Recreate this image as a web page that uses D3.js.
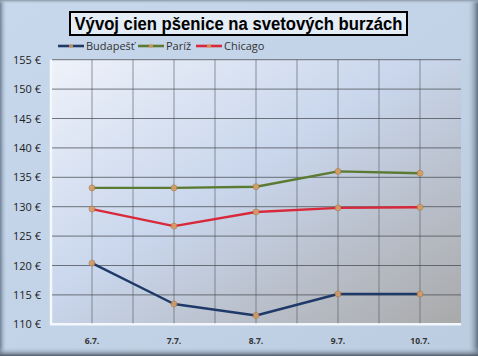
<!DOCTYPE html>
<html><head><meta charset="utf-8">
<script src="https://cdn.jsdelivr.net/npm/d3@7"></script>
<style>body{margin:0;padding:0;background:#fff}svg{display:block}</style>
</head><body>
<script>
const categories = ["6.7.","7.7.","8.7.","9.7.","10.7."];
const budapest = [120.4,113.45,111.5,115.15,115.15];
const pariz = [133.2,133.2,133.4,136.0,135.7];
const chicago = [129.6,126.7,129.1,129.8,129.9];
const yTicks = [110,115,120,125,130,135,140,145,150,155];
const seriesNames = ["Budapešť","Paríž","Chicago"];
const seriesColors = ["#1f3a68","#5b7a32","#d9283a"];
const series = [budapest,pariz,chicago].map((v,i)=>({name:seriesNames[i],color:seriesColors[i],values:v}));

const W=478,H=356;
const svg=d3.select("body").append("svg").attr("width",W).attr("height",H);
const defs=svg.append("defs");
const bg=defs.append("linearGradient").attr("id","bg").attr("x1","0").attr("y1","0").attr("x2","1").attr("y2","1");
bg.append("stop").attr("offset","0").attr("stop-color","#c8d8ec");
bg.append("stop").attr("offset","1").attr("stop-color","#bccde2");
const pg=defs.append("linearGradient").attr("id","pg").attr("x1","0").attr("y1","0").attr("x2","1").attr("y2","1");
pg.append("stop").attr("offset","0").attr("stop-color","#eef2fa");
pg.append("stop").attr("offset","0.45").attr("stop-color","#c9d6ec");
pg.append("stop").attr("offset","1").attr("stop-color","#a9a9a9");
const edgeL=defs.append("linearGradient").attr("id","edgeL").attr("x1","0").attr("x2","1");
edgeL.append("stop").attr("offset","0").attr("stop-color","#6d7f95");
edgeL.append("stop").attr("offset","1").attr("stop-color","#c3d3e6").attr("stop-opacity","0");
const edgeR=defs.append("linearGradient").attr("id","edgeR").attr("x1","1").attr("x2","0");
edgeR.append("stop").attr("offset","0").attr("stop-color","#5f6e80");
edgeR.append("stop").attr("offset","1").attr("stop-color","#c3d3e6").attr("stop-opacity","0");
const edgeB=defs.append("linearGradient").attr("id","edgeB").attr("x1","0").attr("y1","1").attr("x2","0").attr("y2","0");
edgeB.append("stop").attr("offset","0").attr("stop-color","#4e5a68");
edgeB.append("stop").attr("offset","1").attr("stop-color","#c3d3e6").attr("stop-opacity","0");
const edgeT=defs.append("linearGradient").attr("id","edgeT").attr("x1","0").attr("y1","0").attr("x2","0").attr("y2","1");
edgeT.append("stop").attr("offset","0").attr("stop-color","#8a98a8");
edgeT.append("stop").attr("offset","1").attr("stop-color","#c3d3e6").attr("stop-opacity","0");

svg.append("rect").attr("width",W).attr("height",H).attr("fill","url(#bg)");
svg.append("rect").attr("x",0).attr("y",0).attr("width",7).attr("height",H).attr("fill","url(#edgeL)");
svg.append("rect").attr("x",W-11).attr("y",0).attr("width",11).attr("height",H).attr("fill","url(#edgeR)");
svg.append("rect").attr("x",0).attr("y",H-9).attr("width",W).attr("height",9).attr("fill","url(#edgeB)");
svg.append("rect").attr("x",0).attr("y",0).attr("width",W).attr("height",4).attr("fill","url(#edgeT)");

const px0=51,px1=461,py0=59.7,py1=324.3;
const x=d3.scaleBand().domain(categories).range([px0,px1]);
const y=d3.scaleLinear().domain([110,155]).range([py1,py0]);

// plot area
svg.append("rect").attr("x",px0).attr("y",py0).attr("width",px1-px0).attr("height",py1-py0).attr("fill","url(#pg)");
svg.append("path").attr("d",`M${px0},${py0}V${py1}H${px1}`).attr("fill","none").attr("stroke","#f4f8fc").attr("stroke-width",2.5);

// vertical grid: band edges and centers
const vx=[];
categories.forEach(c=>{vx.push(x(c)+x.bandwidth()/2); vx.push(x(c)+x.bandwidth());});
const g=svg.append("g");
g.selectAll("line.v").data(vx.filter(v=>v<px1-1)).join("line")
 .attr("x1",d=>d).attr("x2",d=>d).attr("y1",py0).attr("y2",py1-1)
 .attr("stroke","#5a5f66").attr("stroke-width",0.8).attr("stroke-opacity",0.8);
g.selectAll("line.h").data(yTicks.slice(1)).join("line")
 .attr("x1",px0+1).attr("x2",px1).attr("y1",d=>y(d)).attr("y2",d=>y(d))
 .attr("stroke","#4a4f56").attr("stroke-width",0.9).attr("stroke-opacity",0.85);

// axes labels
const yAxis=d3.axisLeft(y).tickValues(yTicks).tickFormat(d=>d+" €").tickSize(0).tickPadding(10);
const ya=svg.append("g").attr("transform",`translate(${px0},0)`).call(yAxis);
ya.select(".domain").remove();
ya.selectAll("text").attr("font-family","'Open Sans',sans-serif").attr("font-size",11).attr("fill","#222");

const xAxis=d3.axisBottom(x).tickSize(0).tickPadding(14);
const xa=svg.append("g").attr("transform",`translate(0,${py1})`).call(xAxis);
xa.select(".domain").remove();
xa.selectAll("text").attr("font-family","'Open Sans',sans-serif").attr("font-size",8.5).attr("font-weight","bold").attr("fill","#333");

// lines
const line=d3.line().x((d,i)=>x(categories[i])+x.bandwidth()/2).y(d=>y(d));
series.forEach(s=>{
  svg.append("path").attr("d",line(s.values)).attr("fill","none").attr("stroke",s.color).attr("stroke-width",2.4).attr("stroke-linejoin","round");
  svg.selectAll(null).data(s.values).join("circle")
   .attr("cx",(d,i)=>x(categories[i])+x.bandwidth()/2).attr("cy",d=>y(d)).attr("r",3)
   .attr("fill","#d9a066").attr("stroke","#a07040").attr("stroke-width",0.6).attr("opacity",0.9);
});

// title
svg.append("rect").attr("x",70).attr("y",12).attr("width",337).attr("height",23).attr("fill","#e4ecf6").attr("stroke","#000").attr("stroke-width",2);
svg.append("text").attr("x",238.5).attr("y",30).attr("text-anchor","middle")
 .attr("font-family","'Liberation Sans',Arial,sans-serif").attr("font-weight","bold").attr("font-size",17.5).attr("fill","#000")
 .attr("textLength",328).attr("lengthAdjust","spacingAndGlyphs")
 .text("Vývoj cien pšenice na svetových burzách");

// legend
const legX=[58,138,196];
series.forEach((s,i)=>{
  const lg=svg.append("g").attr("transform",`translate(${legX[i]},46)`);
  lg.append("line").attr("x1",0).attr("x2",26).attr("y1",0).attr("y2",0).attr("stroke",s.color).attr("stroke-width",2.6);
  lg.append("circle").attr("cx",13).attr("cy",0).attr("r",2.2).attr("fill","#d9a066").attr("opacity",0.8);
  lg.append("text").attr("x",28).attr("y",4).attr("font-family","'Open Sans',sans-serif").attr("font-size",11).attr("fill","#333").text(s.name);
});
</script>
</body></html>
